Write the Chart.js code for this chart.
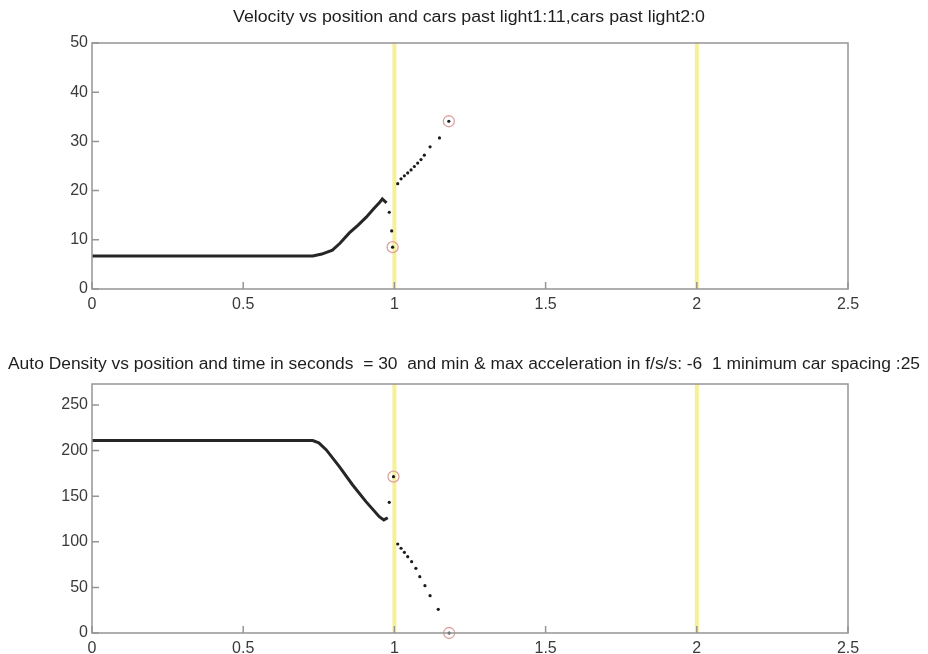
<!DOCTYPE html>
<html>
<head>
<meta charset="utf-8">
<script src="https://cdn.jsdelivr.net/npm/chart.js@4.4.1/dist/chart.umd.min.js"></script>
<style>
  html, body { margin: 0; padding: 0; background: #fff; }
  #wrap { position: relative; width: 928px; height: 654px; overflow: hidden; background: #fff; }
  .box { position: absolute; left: 0; width: 928px; }
</style>
</head>
<body>
<div id="wrap">
  <div class="box" style="top:0;height:330px;"><canvas id="c1" width="928" height="330"></canvas></div>
  <div class="box" style="top:330px;height:324px;"><canvas id="c2" width="928" height="324"></canvas></div>
</div>
<script>
// ---------- data ----------
const topTitle = 'Velocity vs position and cars past light1:11,cars past light2:0';
const bottomTitle = 'Auto Density vs position and time in seconds  = 30  and min & max acceleration in f/s/s: -6  1 minimum car spacing :25';

const xTicks = [0, 0.5, 1, 1.5, 2, 2.5];
const velocityTicks = [0, 10, 20, 30, 40, 50];
const densityTicks = [0, 50, 100, 150, 200, 250];
const velocityRange = [0, 50];
const densityRange = [0, 273];
const lightPositions = [1, 2];

// dense part of the velocity trace (black '.' markers merge into a thick line)
const velocityCurvePos = [0, 0.1, 0.2, 0.3, 0.4, 0.5, 0.6, 0.7, 0.73, 0.76, 0.795, 0.82, 0.851, 0.88, 0.907, 0.93, 0.95, 0.96, 0.974];
const velocityCurve    = [6.7, 6.7, 6.7, 6.7, 6.7, 6.7, 6.7, 6.7, 6.7, 7.1, 7.9, 9.3, 11.4, 13.0, 14.6, 16.2, 17.5, 18.3, 17.5];
// isolated velocity markers
const velocityDotPos = [0.983, 0.991, 0.994, 1.011, 1.022, 1.033, 1.044, 1.055, 1.066, 1.077, 1.088, 1.099, 1.118, 1.149, 1.18];
const velocityDots   = [15.6, 11.8, 8.5, 21.4, 22.4, 23.0, 23.6, 24.2, 24.9, 25.6, 26.3, 27.2, 28.9, 30.7, 34.1];
// circled cars
const velocityCirclePos = [0.994, 1.18];
const velocityCircles   = [8.5, 34.1];

const densityCurvePos = [0, 0.1, 0.2, 0.3, 0.4, 0.5, 0.6, 0.7, 0.73, 0.75, 0.775, 0.818, 0.862, 0.906, 0.95, 0.965, 0.978];
const densityCurve    = [211, 211, 211, 211, 211, 211, 211, 211, 211, 208.5, 200.7, 182.4, 162.3, 144, 127.5, 124, 126.4];
const densityDotPos = [0.983, 0.997, 1.011, 1.022, 1.033, 1.044, 1.057, 1.071, 1.084, 1.101, 1.118, 1.145, 1.181];
const densityDots   = [143.3, 171.4, 97.6, 92.9, 88.5, 83.7, 78.2, 70.9, 61.7, 51.9, 40.9, 26.0, 0];
const densityCirclePos = [0.997, 1.181];
const densityCircles   = [171.4, 0];

// ---------- helpers ----------
const FONT = '"Liberation Sans", Arial, Helvetica, sans-serif';
const pts = (xs, ys) => xs.map((x, i) => ({ x: x, y: ys[i] }));
const fmt = v => String(Math.round(v * 10) / 10);

const axesBox = {
  id: 'axesBox',
  afterDraw(chart, args, opts) {
    const { ctx, chartArea: a, scales } = chart;
    ctx.save();
    ctx.strokeStyle = '#959595';
    ctx.lineWidth = 1.5;
    ctx.strokeRect(a.left, a.top, a.right - a.left, a.bottom - a.top);
    ctx.beginPath();
    scales.x.ticks.forEach(t => {
      const px = scales.x.getPixelForValue(t.value);
      ctx.moveTo(px, a.bottom); ctx.lineTo(px, a.bottom - 7);
    });
    scales.y.ticks.forEach(t => {
      const py = scales.y.getPixelForValue(t.value);
      ctx.moveTo(a.left, py); ctx.lineTo(a.left + 7, py);
    });
    ctx.stroke();
    // axes title (MATLAB style, stretched to the reference width)
    ctx.font = '16px ' + FONT;
    ctx.fillStyle = '#1e1e1e';
    ctx.textAlign = 'center';
    ctx.textBaseline = 'middle';
    const w = ctx.measureText(opts.text).width;
    const sx = opts.width / w;
    ctx.translate(opts.x, opts.y);
    ctx.scale(sx, 1);
    ctx.fillText(opts.text, 0, 0);
    ctx.restore();
  }
};

function makeChart(id, titleOpts, topPad, curvePos, curve, dotPos, dots, circPos, circs, range, yTicks, xAxisHeight) {
  const lights = lightPositions.map(p => ({
    type: 'line',
    data: [{ x: p, y: range[0] }, { x: p, y: range[1] }],
    borderColor: 'rgba(242,232,80,0.6)',
    borderWidth: 4,
    pointRadius: 0,
    showLine: true,
    order: 10
  }));
  return new Chart(document.getElementById(id), {
    type: 'scatter',
    data: {
      datasets: [
        {
          type: 'line',
          data: pts(curvePos, curve),
          borderColor: '#262626',
          borderWidth: 3,
          pointRadius: 0,
          tension: 0,
          showLine: true,
          order: 2
        },
        {
          data: pts(dotPos, dots),
          pointRadius: 1.6,
          pointBackgroundColor: '#1a1a1a',
          pointBorderWidth: 0,
          order: 1,
          clip: 4
        },
        {
          data: pts(circPos, circs),
          pointRadius: 5.5,
          pointBackgroundColor: 'rgba(0,0,0,0)',
          pointBorderColor: '#dea0a0',
          pointBorderWidth: 1.3,
          order: 0,
          clip: 8
        },
        ...lights
      ]
    },
    options: {
      responsive: false,
      animation: false,
      events: [],
      layout: { padding: { left: 0, right: 80, top: topPad, bottom: 0 } },
      plugins: {
        legend: { display: false },
        tooltip: { enabled: false },
        title: { display: false },
        axesBox: titleOpts
      },
      scales: {
        x: {
          type: 'linear',
          min: 0, max: 2.5,
          afterBuildTicks: s => { s.ticks = xTicks.map(v => ({ value: v })); },
          afterFit: s => { s.height = xAxisHeight; },
          border: { display: false },
          grid: { display: false, drawTicks: false },
          ticks: { color: '#3a3a3a', padding: 6, maxRotation: 0, font: { family: FONT, size: 16 }, callback: v => fmt(v) }
        },
        y: {
          type: 'linear',
          min: range[0], max: range[1],
          afterBuildTicks: s => { s.ticks = yTicks.map(v => ({ value: v })); },
          afterFit: s => { s.width = 92; },
          border: { display: false },
          grid: { display: false, drawTicks: false },
          ticks: { color: '#3a3a3a', padding: 4, font: { family: FONT, size: 16 }, callback: v => fmt(v) }
        }
      }
    },
    plugins: [axesBox]
  });
}

makeChart('c1', { text: topTitle, x: 469, y: 18, width: 472 }, 43, velocityCurvePos, velocityCurve, velocityDotPos, velocityDots,
  velocityCirclePos, velocityCircles, velocityRange, velocityTicks, 41);
makeChart('c2', { text: bottomTitle, x: 464, y: 35, width: 912 }, 54, densityCurvePos, densityCurve, densityDotPos, densityDots,
  densityCirclePos, densityCircles, densityRange, densityTicks, 21);
</script>
</body>
</html>
